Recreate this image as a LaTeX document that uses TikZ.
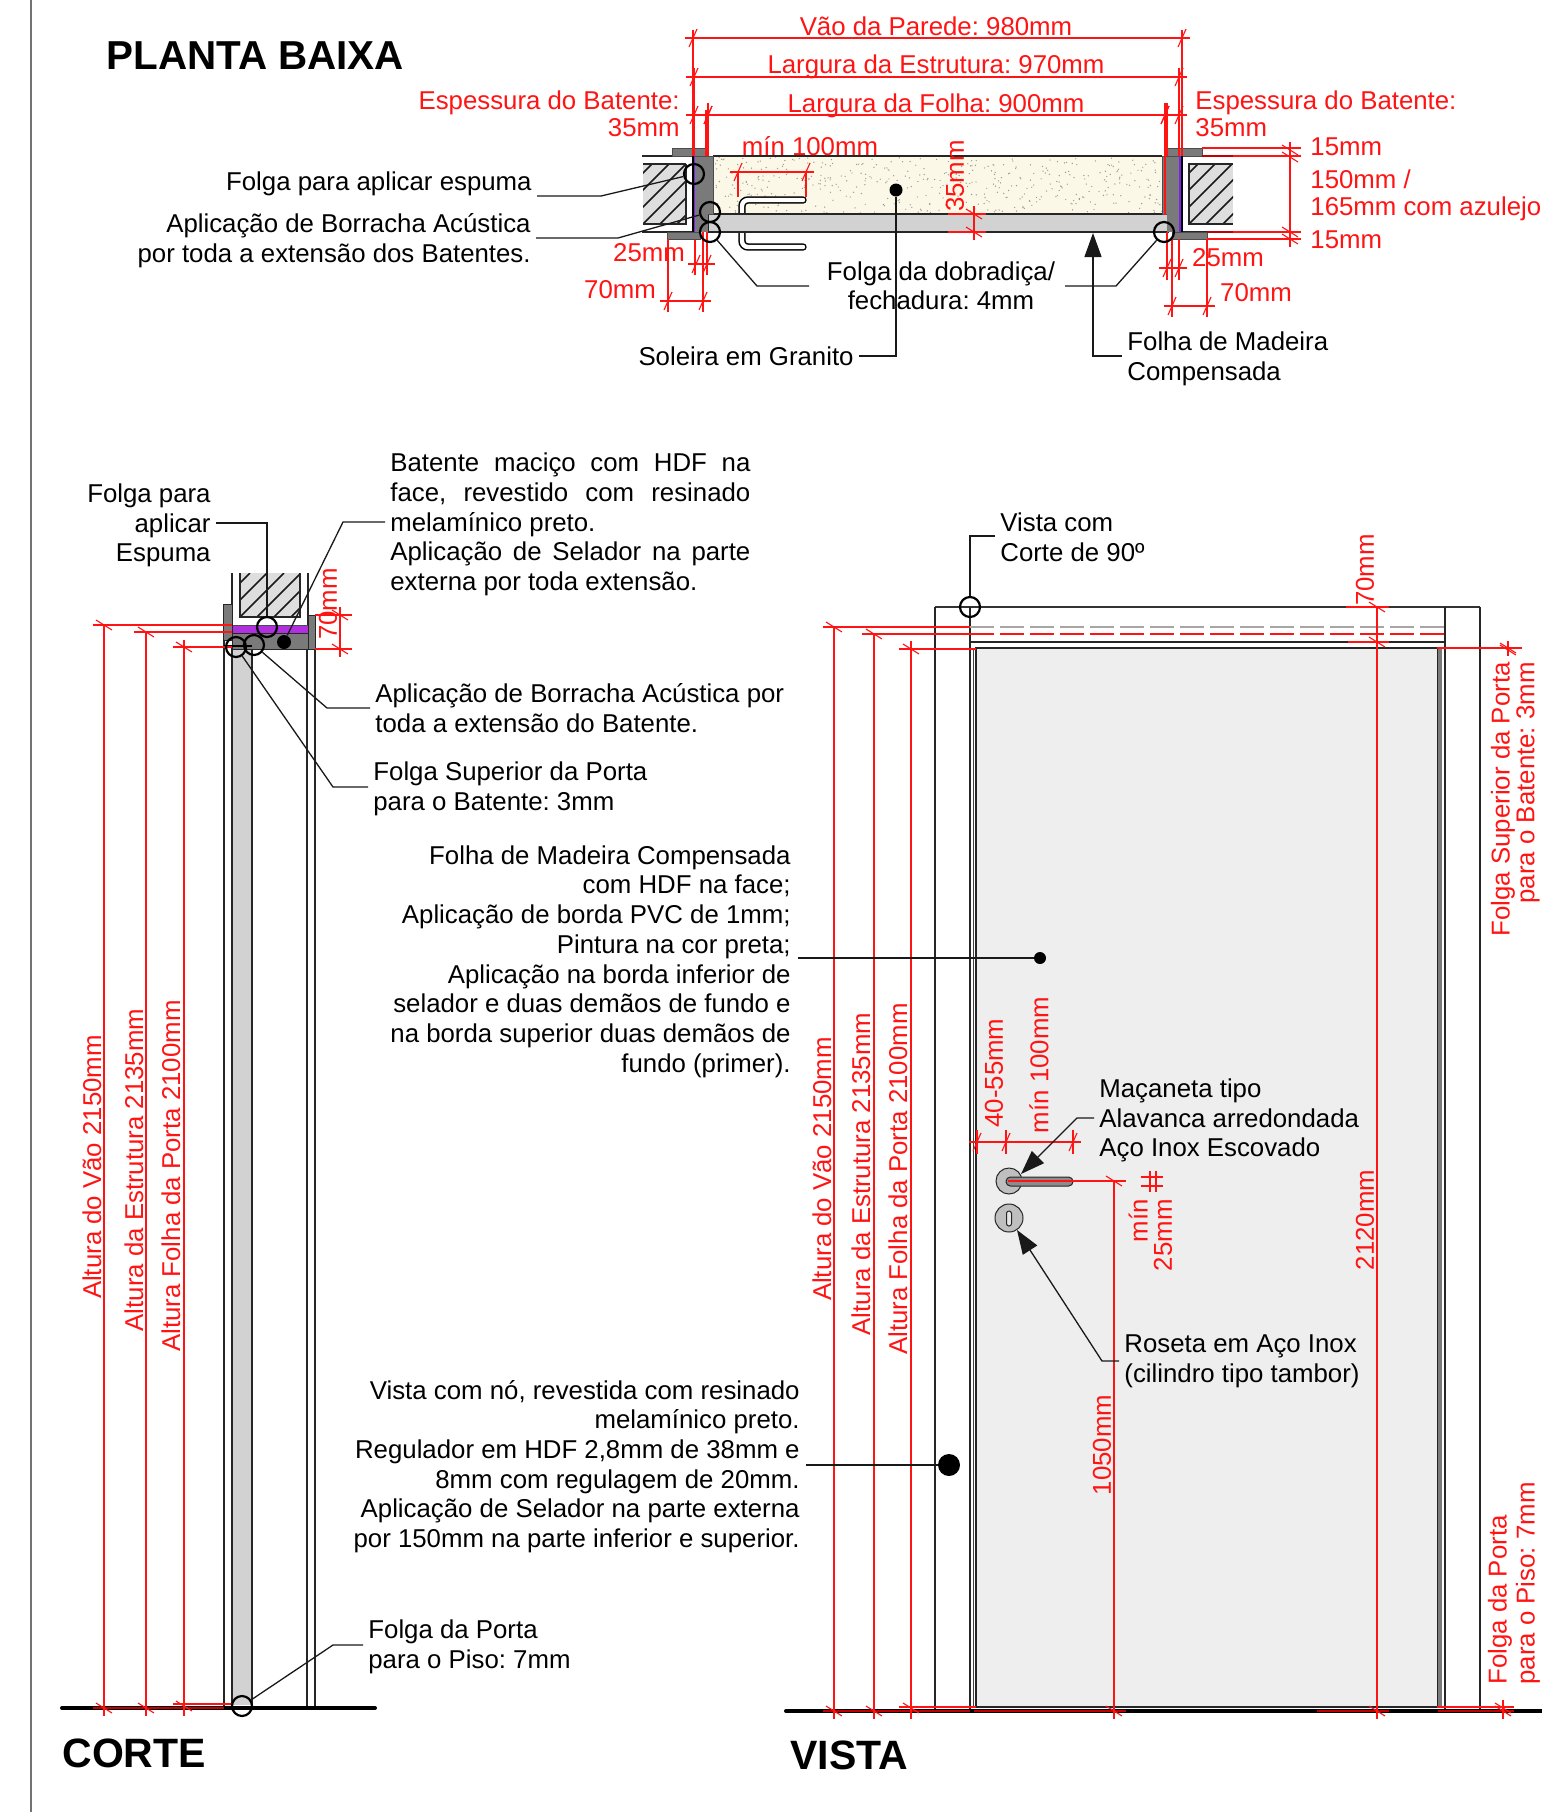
\documentclass[tikz,border=0pt]{standalone}
\usepackage{fontspec}
\setmainfont{Liberation Sans}
\usetikzlibrary{arrows.meta,calc}
\definecolor{rd}{HTML}{FF1414}
\definecolor{drd}{HTML}{C00000}
\definecolor{batg}{HTML}{7A7A7A}
\definecolor{folg}{HTML}{D2D2D2}
\definecolor{sol}{HTML}{FCF8E8}
\definecolor{door}{HTML}{EEEEEE}
\definecolor{hat}{HTML}{DEDEDE}
\definecolor{purp}{HTML}{B030E0}
\tikzset{
 txt/.style={font=\fontsize{12.9}{14.85}\selectfont\frenchspacing, inner sep=2.5pt, text=black},
 rtxt/.style={txt, text=rd},
 ttl/.style={font=\fontsize{20.5}{24}\selectfont\bfseries, inner sep=0pt},
 dim/.style={draw=rd, line width=0.55pt},
 ldr/.style={draw=black!90, line width=0.65pt},
 obj/.style={draw=black!85, line width=0.65pt},
 ring/.style={circle, draw=black, line width=1.1pt, minimum size=10pt, inner sep=0pt},
 dotn/.style={circle, fill=black, inner sep=0pt},
 tip/.style={-{Triangle[length=12pt,width=8.5pt]}},
}
\newcommand\htk[2]{\draw[dim] ({#1-4},{#2+9})--({#1+4},{#2-9});}
\newcommand\vtk[2]{\draw[dim] ({#1-8},{#2-5})--({#1+8},{#2+5});}
\newcommand\hdm[3]{\draw[dim] ({#2-8},#1)--({#3+8},#1); \htk{#2}{#1}\htk{#3}{#1}}
\newcommand\vdm[3]{\draw[dim] (#1,{#2-8})--(#1,{#3+8}); \vtk{#1}{#2}\vtk{#1}{#3}}
\newcommand\hatchbox[4]{\begin{scope}
 \fill[hat] (#1,#2) rectangle (#3,#4);
 \clip (#1,#2) rectangle (#3,#4);
 \foreach \k in {-8,...,12}{\draw[black!90,line width=0.75pt] ({#1+\k*17},#4)--++({#4-#2},{#2-#4});}
 \end{scope}}
\begin{document}
\begin{tikzpicture}[x=0.5pt,y=-0.5pt]
\useasboundingbox (0,0) rectangle (1542,1812);
\draw[black!55,line width=0.6pt] (31,0)--(31,1812);
% ===== PLANTA BAIXA =====
\node[ttl,anchor=west,font=\fontsize{20.2}{24}\selectfont\bfseries] (tPlanta) at (106,56) {PLANTA BAIXA};
% walls
\hatchbox{643}{164}{686}{224}
\draw[obj] (686,164)--(643,164) (686,164)--(686,224)--(643,224);
\draw[obj] (642,156)--(693,156) (642,232)--(693,232);
\hatchbox{1189}{164}{1233}{224}
\draw[obj] (1233,164)--(1189,164)--(1189,224)--(1233,224);
\draw[obj] (1182,156)--(1233,156) (1182,232)--(1233,232);
% soleira
\fill[sol] (713,156) rectangle (1162,214);
\pgfmathsetseed{42}
\foreach \i in {1,...,450}{\pgfmathsetmacro\xx{713+449*rnd}\pgfmathsetmacro\yy{157+56*rnd}\fill[black!40] (\xx,\yy) circle[radius=0.7];}
\draw[obj] (713,156)--(1162,156);
% handle in plan
\draw[black,line width=3.7pt,rounded corners=3pt,line cap=round] (803,200)--(742,200)--(742,247)--(803,247);
\draw[white,line width=2.2pt,rounded corners=3pt,line cap=round] (803,200)--(742,200)--(742,247)--(803,247);
% folha
\filldraw[fill=folg,draw=black!85,line width=0.7pt] (708,214) rectangle (1168,232);
% batente left
\filldraw[fill=batg,draw=black!70,line width=0.5pt] (672,148) rectangle (708,156);
\filldraw[fill=batg,draw=black!70,line width=0.5pt] (667,232) rectangle (700,239);
\filldraw[fill=batg,draw=black!70,line width=0.5pt] (693,156) rectangle (713,214);
\fill[batg] (693,214) rectangle (708,232);
\draw[black,line width=0.9pt] (693,156)--(693,232);
\draw[purp!70!blue,line width=0.5pt] (694.5,156)--(694.5,232);
% batente right
\filldraw[fill=batg,draw=black!70,line width=0.5pt] (1167,148) rectangle (1202,156);
\filldraw[fill=batg,draw=black!70,line width=0.5pt] (1172,232) rectangle (1207,239);
\filldraw[fill=batg,draw=black!70,line width=0.5pt] (1162,156) rectangle (1182,214);
\fill[batg] (1167,214) rectangle (1182,232);
\draw[black,line width=0.8pt] (1182,156)--(1182,232);
\draw[purp!70!blue,line width=0.6pt] (1180,156)--(1180,232);
% plan dims
\draw[dim] (693,30)--(693,156) (694,68)--(694,156) (708,103)--(708,156) (706,110)--(706,156);
\draw[dim] (1182,30)--(1182,156) (1179,68)--(1179,156) (1165,103)--(1165,215) (1167,103)--(1167,156);
\hdm{38}{693}{1182}
\hdm{77}{694}{1179}
\hdm{115}{708}{1165}
\hdm{115}{694}{708}
\hdm{115}{1165}{1179}
\draw[dim] (738,172)--(738,197) (806,172)--(806,197);
\hdm{172}{738}{806}
\draw[dim] (948,214)--(986,214) (948,232)--(986,232);
\vdm{974}{214}{232}
% left lower dims
\draw[dim] (695,240)--(695,275) (707,232)--(707,275) (668,239)--(668,312) (703,232)--(703,312);
\hdm{264}{696}{707}
\hdm{301}{668}{703}
% right lower dims
\draw[dim] (1167,232)--(1167,280) (1179,239)--(1179,280) (1172,239)--(1172,317) (1207,239)--(1207,317);
\hdm{268}{1167}{1179}
\hdm{306}{1172}{1207}
% right vertical dims
\draw[dim] (1202,148)--(1301,148) (1233,156)--(1301,156) (1207,239)--(1301,239) (1233,232)--(1301,232);
\draw[drd,line width=0.55pt] (1202,156)--(1233,156) (1207,232)--(1233,232);
\draw[dim] (1290,142)--(1290,247);
\vtk{1290}{150}\vtk{1290}{157}\vtk{1290}{232}\vtk{1290}{239}
% plan circles and leaders
\node[ring] (cA) at (694,174) {};
\node[ring] (cB) at (710,212) {};
\node[ring] (cC) at (710,232) {};
\node[ring] (cD) at (1164,232) {};
\node[dotn,minimum size=6.5pt] (dS) at (896,190) {};
% plan labels
\node[rtxt] (tVao) at (936,26) {Vão da Parede: 980mm};
\node[rtxt] (tEst) at (936,67) {Largura da Estrutura: 970mm};
\node[rtxt] (tFol) at (936,105.5) {Largura da Folha: 900mm};
\node[rtxt] (tMin) at (810,146) {mín 100mm};
\node[rtxt,rotate=90] (t35) at (955,176) {35mm};
\node[rtxt,align=right,anchor=east] (tEspL) at (685,114) {Espessura do Batente:\\[-1.5pt]35mm};
\node[rtxt,align=left,anchor=west] (tEspR) at (1190,114) {Espessura do Batente:\\[-1.5pt]35mm};
\node[rtxt] (t25L) at (649,253) {25mm};
\node[rtxt] (t70L) at (620,290) {70mm};
\node[rtxt] (t25R) at (1228,258) {25mm};
\node[rtxt] (t70R) at (1256,293) {70mm};
\node[rtxt,anchor=west] (t15a) at (1305,147) {15mm};
\node[rtxt,align=left,anchor=west] (t150) at (1305,195) {150mm /\\[-1.5pt]165mm com azulejo};
\node[rtxt,anchor=west] (t15b) at (1305,240) {15mm};
\node[txt,anchor=east] (tEsp) at (537,183.5) {Folga para aplicar espuma};
\node[txt,align=right,anchor=east] (tBor) at (536,240.5) {Aplicação de Borracha Acústica\\por toda a extensão dos Batentes.};
\node[txt,align=center] (tDob) at (941,286) {Folga da dobradiça/\\[-0.5pt]fechadura: 4mm};
\node[txt,anchor=east] (tSol) at (859,356) {Soleira em Granito};
\node[txt,align=left,anchor=west] (tFMC) at (1122,358.5) {Folha de Madeira\\Compensada};
\draw[ldr] (tEsp.east |- 601,196) -- (601,196) -- (cA);
\draw[ldr] (tBor.east |- 618,238) -- (618,238) -- (cB);
\draw[ldr] (cC) -- (757,286) -- (809,286);
\draw[ldr] (cD) -- (1116,286) -- (1065,286);
\draw[ldr] (dS) -- (896,356) -- (tSol.east);
\draw[ldr,tip] (1122,356) -- (1093,356) -- (1093,233);
% ===== CORTE =====
\node[ttl,anchor=west] (tCorte) at (62,1753) {CORTE};
\draw[obj] (232,573)--(232,625) (308,573)--(308,633);
\hatchbox{240}{573}{300}{617}
\draw[obj] (240,573)--(240,617)--(300,617)--(300,573);
\fill[folg] (232,646) rectangle (252,1705);
\draw[obj] (224,640)--(224,1707) (232,646)--(232,1705) (252,646)--(252,1705) (307,649)--(307,1707) (315,649)--(315,1707);
\fill[purp] (232,625) rectangle (308,633);
\draw[black!70,line width=0.5pt] (232,625)--(308,625);
\filldraw[fill=batg,draw=black!85,line width=0.5pt] (232,633) rectangle (308,649);
\filldraw[fill=batg,draw=black!85,line width=0.5pt] (223,604) rectangle (232,640);
\filldraw[fill=batg,draw=black!85,line width=0.5pt] (308,615) rectangle (315,649);
\draw[black,line width=0.7pt] (224,646)--(252,646);
\draw[black,line width=2pt,line cap=round] (62,1708)--(375,1708);
% corte dims
\draw[dim] (93,625)--(232,625) (134,632)--(232,632) (173,647)--(232,647);
\draw[dim] (173,1704)--(232,1704);
\draw[drd,line width=1pt] (93,1708)--(224,1708);
\draw[dim] (104,625)--(104,1716) (146,632)--(146,1716) (184,640)--(184,1716);
\vtk{104}{625}\vtk{104}{1708}\vtk{146}{632}\vtk{146}{1708}\vtk{184}{647}\vtk{184}{1706}
\draw[dim] (315,615)--(352,615) (315,649)--(352,649);
\vdm{340}{615}{649}
\node[rtxt,rotate=90] (t70C) at (328,604) {70mm};
\node[rtxt,rotate=90] (tC1) at (92,1167) {Altura do Vão 2150mm};
\node[rtxt,rotate=90] (tC2) at (134,1170) {Altura da Estrutura 2135mm};
\node[rtxt,rotate=90] (tC3) at (171,1176) {Altura Folha da Porta 2100mm};
\node[ring] (cE) at (267,627) {};
\node[ring] (cF) at (236,647) {};
\node[ring] (cG) at (254,645) {};
\node[ring] (cH) at (242,1706) {};
\node[dotn,minimum size=7pt] (dB) at (284,642) {};
\node[txt,align=right,anchor=east] (tFE) at (216,525.5) {Folga para\\aplicar\\Espuma};
\node[txt,align=left,anchor=west] (tBat) at (385,524.5) {\makebox[180pt][s]{Batente maciço com HDF na}\\\makebox[180pt][s]{face, revestido com resinado}\\melamínico preto.\\\makebox[180pt][s]{Aplicação de Selador na parte}\\externa por toda extensão.};
\node[txt,align=left,anchor=west] (tAB) at (370,708) {Aplicação de Borracha Acústica por\\toda a extensão do Batente.};
\node[txt,align=left,anchor=west] (tFS) at (368,788.5) {Folga Superior da Porta\\para o Batente: 3mm};
\node[txt,align=right,anchor=east] (tFM) at (796,961.5) {Folha de Madeira Compensada\\com HDF na face;\\Aplicação de borda PVC de 1mm;\\Pintura na cor preta;\\Aplicação na borda inferior de\\selador e duas demãos de fundo e\\na borda superior duas demãos de\\fundo (primer).};
\node[txt,align=right,anchor=east] (tVN) at (805,1466.5) {Vista com nó, revestida com resinado\\melamínico preto.\\Regulador em HDF 2,8mm de 38mm e\\8mm com regulagem de 20mm.\\Aplicação de Selador na parte externa\\por 150mm na parte inferior e superior.};
\node[txt,align=left,anchor=west] (tFP) at (363,1647) {Folga da Porta\\para o Piso: 7mm};
\draw[ldr] (tFE.east |- 0,523) -- (267,523) -- (cE);
\draw[ldr] (tBat.west |- 0,522) -- (343,522) -- (dB);
\draw[ldr] (cG) -- (327,708) -- (tAB.west);
\draw[ldr] (cF) -- (333,787) -- (tFS.west |- 0,787);
\draw[ldr] (cH) -- (333,1645) -- (tFP.west |- 0,1645);
% ===== VISTA =====
\node[ttl,anchor=west] (tVista) at (790,1755) {VISTA};
\draw[black!80,line width=1.1pt] (935,607)--(1480,607);
\draw[obj] (935,607)--(935,1710) (1480,607)--(1480,1710) (970,607)--(970,1710) (1445,607)--(1445,1710);
\draw[obj] (970,642)--(1445,642);
\draw[black!35,line width=0.8pt,dash pattern=on 12pt off 3pt] (970,627)--(1445,627);
\filldraw[fill=door,draw=black!85,line width=0.6pt] (976,648) rectangle (1438,1707);
\draw[black!85,line width=1.1pt] (976,648)--(1438,648);
\draw[black!75,line width=0.5pt] (973,648)--(973,1707);
\fill[batg] (1438,648) rectangle (1442,1707);
\draw[black,line width=2pt,line cap=round] (786,1711)--(1542,1711);
% vista dims
\draw[rd,line width=0.6pt,dash pattern=on 12pt off 3pt] (970,634)--(1445,634);
\draw[dim] (823,627)--(970,627) (862,634)--(970,634) (899,649)--(976,649);
\draw[dim] (899,1707)--(976,1707);
\draw[drd,line width=1pt] (823,1711)--(970,1711) (974,1711)--(1126,1711) (1317,1711)--(1389,1711) (1438,1711)--(1514,1711);
\draw[dim] (1437,1707)--(1514,1707);
\draw[dim] (834,627)--(834,1719) (874,634)--(874,1719) (911,641)--(911,1719);
\vtk{834}{627}\vtk{874}{634}\vtk{911}{649}\vtk{834}{1711}\vtk{874}{1711}\vtk{911}{1708}
\draw[dim] (1346,607)--(1389,607) (1348,642)--(1389,642);
\draw[dim] (1377,607)--(1377,1719);
\vtk{1377}{607}\vtk{1377}{642}\vtk{1377}{1711}
\draw[dim,line width=1pt] (1437,648)--(1522,648);
\draw[dim] (1508,641)--(1508,656);
\vtk{1508}{648}\vtk{1508}{650}
\draw[dim] (1503,1700)--(1503,1719);
\vtk{1503}{1708}\vtk{1503}{1711}
\draw[dim] (1114,1181)--(1114,1719);
\vtk{1114}{1181}\vtk{1114}{1711}
% handle
\filldraw[fill=black!25,draw=black!85,line width=0.5pt] (1009,1181) circle[radius=13];
\filldraw[fill=black!25,draw=black!85,line width=0.5pt] (1009,1218) circle[radius=14];
\filldraw[fill=black!10,draw=black!85,line width=0.5pt,rounded corners=1.2pt] (1006.5,1211) rectangle (1011.5,1226);
\filldraw[fill=black!45,draw=black!85,line width=0.5pt,rounded corners=2.2pt] (1006,1177) rectangle (1073,1186);
\draw[dim] (1008,1181)--(1126,1181);
% 40-55 dims
\draw[dim] (969,1142)--(1081,1142);
\htk{977}{1142}\htk{1006}{1142}\htk{1073}{1142}
\draw[dim] (977,1130)--(977,1154) (1006,1130)--(1006,1154) (1073,1130)--(1073,1154);
\draw[dim] (1141,1177)--(1163,1177) (1141,1186)--(1163,1186) (1150,1171)--(1150,1192) (1156,1171)--(1156,1192);
% vista circles, texts
\node[ring] (cV) at (970,607) {};
\node[dotn,minimum size=6pt] (dF) at (1040,958) {};
\node[dotn,minimum size=11pt] (dV) at (949,1465) {};
\node[rtxt,rotate=90] (tV1) at (822,1169) {Altura do Vão 2150mm};
\node[rtxt,rotate=90] (tV2) at (861,1174) {Altura da Estrutura 2135mm};
\node[rtxt,rotate=90] (tV3) at (898,1179) {Altura Folha da Porta 2100mm};
\node[rtxt,rotate=90] (t70V) at (1365,570) {70mm};
\node[rtxt,rotate=90] (t2120) at (1365,1220) {2120mm};
\node[rtxt,rotate=90] (t1050) at (1102,1445) {1050mm};
\node[rtxt,rotate=90] (t4055) at (994,1073) {40-55mm};
\node[rtxt,rotate=90] (tm100) at (1039,1065) {mín 100mm};
\node[rtxt,rotate=90,anchor=east] (tm1) at (1138,1194) {mín};
\node[rtxt,rotate=90,anchor=east] (t25V) at (1163,1194) {25mm};
\node[rtxt,rotate=90,anchor=east] (tFS1) at (1503,657) {Folga Superior da Porta};
\node[rtxt,rotate=90,anchor=east] (tFS2) at (1528,657) {para o Batente: 3mm};
\node[rtxt,rotate=90,anchor=west] (tFP1) at (1500,1690) {Folga da Porta};
\node[rtxt,rotate=90,anchor=west] (tFP2) at (1528,1690) {para o Piso: 7mm};
\node[txt,align=left,anchor=west] (tVC) at (995,537) {Vista com\\Corte de 90º};
\node[txt,align=left,anchor=west] (tMac) at (1094,1120.5) {Maçaneta tipo\\Alavanca arredondada\\Aço Inox Escovado};
\node[txt,align=left,anchor=west] (tRos) at (1119,1361.5) {Roseta em Aço Inox\\(cilindro tipo tambor)};
\draw[ldr] (cV) -- (970,536) -- (tVC.west |- 0,536);
\draw[ldr] (798,958) -- (dF);
\draw[ldr] (806,1465) -- (dV);
\draw[ldr,tip] (tMac.west |- 0,1118) -- (1077,1118) -- (1021,1174);
\draw[ldr,tip] (tRos.west |- 0,1361) -- (1102,1361) -- (1017,1230);
\end{tikzpicture}
\end{document}
